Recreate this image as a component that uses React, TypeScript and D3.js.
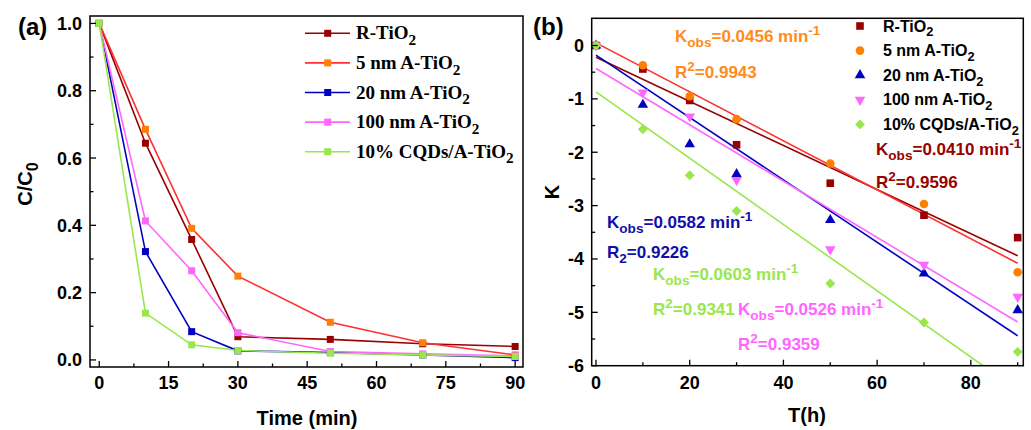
import React from "react";
import * as d3 from "d3";

// ---------- data ----------
const timeMin = [0, 10, 20, 30, 50, 70, 90];
const seriesNames = ["R-TiO", "5 nm A-TiO", "20 nm A-TiO", "100 nm A-TiO", "10% CQDs/A-TiO"];
const cR = [1, 0.644, 0.358, 0.069, 0.061, 0.048, 0.04];
const c5 = [1, 0.685, 0.391, 0.249, 0.112, 0.051, 0.015];
const c20 = [1, 0.322, 0.084, 0.027, 0.022, 0.015, 0.007];
const c100 = [1, 0.413, 0.265, 0.081, 0.025, 0.018, 0.012];
const cCQD = [1, 0.139, 0.045, 0.028, 0.02, 0.015, 0.01];

const kR = [0, -0.44, -1.03, -1.86, -2.58, -3.18, -3.6];
const k5 = [0, -0.37, -0.95, -1.38, -2.21, -2.97, -4.25];
const k20 = [0, -1.11, -1.85, -2.41, -3.27, -4.27, -4.96];
const k100 = [0, -0.88, -1.33, -2.52, -3.82, -4.11, -4.71];
const kCQD = [0, -1.57, -2.43, -3.1, -4.46, -5.19, -5.74];

// linear fit endpoints (x0=0)
const fitStartY = [-0.22, 0.05, -0.18, -0.43, -0.87];
const fitEndX = [90, 90, 90, 90, 82.6];
const fitEndY = [-3.94, -4.08, -5.44, -5.18, -6.0];

const xTicksA = [0, 15, 30, 45, 60, 75, 90];
const yTicksA = [0, 0.2, 0.4, 0.6, 0.8, 1.0];
const xTicksB = [0, 20, 40, 60, 80];
const yTicksB = [0, -1, -2, -3, -4, -5, -6];

const lineColors = ["#990000", "#FF3030", "#0000C0", "#FF66FF", "#99E64D"];
const markerColors = ["#990000", "#FF8000", "#0000C0", "#FF66FF", "#99E64D"];
const annoColors = ["#990000", "#FF8C1A", "#1010A8", "#FF66FF", "#99E64D"];

const SANS = "'Liberation Sans', Arial, sans-serif";
const SERIF = "'Liberation Serif', 'Times New Roman', serif";

type Part = { t: string; sub?: boolean; sup?: boolean };

function Rich({ x, y, parts, size, color, family = SANS, anchor = "start", rotate }: any) {
  let shift = 0;
  const spans = parts.map((p: Part, i: number) => {
    let target = 0;
    if (p.sub) target = size * 0.3;
    if (p.sup) target = -size * 0.4;
    const dy = target - shift;
    shift = target;
    return (
      <tspan key={i} dy={dy} fontSize={p.sub || p.sup ? size * 0.8 : size}>
        {p.t}
      </tspan>
    );
  });
  return (
    <text
      x={x}
      y={y}
      fill={color}
      fontFamily={family}
      fontWeight="bold"
      fontSize={size}
      textAnchor={anchor}
      transform={rotate ? `rotate(${rotate},${x},${y})` : undefined}
    >
      {spans}
    </text>
  );
}

function PanelA() {
  const L = 90, R = 523, T = 16, B = 367;
  const x = d3.scaleLinear().domain([-2, 91.7]).range([L, R]);
  const y = d3.scaleLinear().domain([-0.021, 1.022]).range([B, T]);
  const data = [cR, c5, c20, c100, cCQD];
  const line = d3
    .line<number>()
    .x((_, i) => x(timeMin[i]))
    .y((d) => y(d));
  const minorX = d3.range(0, 91, 7.5);
  const minorY = d3.range(0, 1.01, 0.1);
  const ms = 7;
  return (
    <g>
      {data.map((s, k) => (
        <path key={k} d={line(s) || ""} fill="none" stroke={lineColors[k]} strokeWidth={1.6} />
      ))}
      {data.map((s, k) =>
        s.map((v, i) => (
          <rect
            key={k + "-" + i}
            x={x(timeMin[i]) - ms / 2}
            y={y(v) - ms / 2}
            width={ms}
            height={ms}
            fill={markerColors[k]}
          />
        ))
      )}
      <rect x={L} y={T} width={R - L} height={B - T} fill="none" stroke="#000" strokeWidth={1.5} />
      {minorX.map((t) => (
        <line key={"mx" + t} x1={x(t)} x2={x(t)} y1={B} y2={B - (xTicksA.includes(t) ? 6 : 3.5)} stroke="#000" strokeWidth={1.3} />
      ))}
      {minorY.map((t) => (
        <line key={"my" + t} x1={L} x2={L + (Math.round(t * 10) % 2 === 0 ? 6 : 3.5)} y1={y(t)} y2={y(t)} stroke="#000" strokeWidth={1.3} />
      ))}
      {xTicksA.map((t) => (
        <text key={"xt" + t} x={x(t)} y={389} textAnchor="middle" fontFamily={SANS} fontWeight="bold" fontSize={18}>
          {t}
        </text>
      ))}
      {yTicksA.map((t) => (
        <text key={"yt" + t} x={82} y={y(t) + 6.5} textAnchor="end" fontFamily={SANS} fontWeight="bold" fontSize={18}>
          {t.toFixed(1)}
        </text>
      ))}
      <text x={307} y={425} textAnchor="middle" fontFamily={SANS} fontWeight="bold" fontSize={20}>
        Time (min)
      </text>
      <Rich x={32} y={184} size={20} color="#000" anchor="middle" rotate={-90} parts={[{ t: "C/C" }, { t: "0", sub: true }]} />
      <text x={18} y={35} fontFamily={SANS} fontWeight="bold" fontSize={24}>
        (a)
      </text>
      {seriesNames.map((n, k) => {
        const ly = 33.3 + k * 29.6;
        return (
          <g key={"lg" + k}>
            <line x1={305} x2={350} y1={ly} y2={ly} stroke={lineColors[k]} strokeWidth={1.6} />
            <rect x={327.7 - ms / 2} y={ly - ms / 2} width={ms} height={ms} fill={markerColors[k]} />
            <Rich x={356} y={ly + 6} size={19} family={SERIF} color="#000" parts={[{ t: n }, { t: "2", sub: true }]} />
          </g>
        );
      })}
    </g>
  );
}

function Marker({ k, cx, cy }: any) {
  const c = markerColors[k];
  if (k === 0) return <rect x={cx - 3.8} y={cy - 3.8} width={7.6} height={7.6} fill={c} />;
  if (k === 1) return <circle cx={cx} cy={cy} r={4.3} fill={c} />;
  if (k === 4)
    return <rect x={-3.5} y={-3.5} width={7} height={7} fill={c} transform={`translate(${cx},${cy}) rotate(45)`} />;
  const sym = d3.symbol(d3.symbolTriangle, 48);
  const rot = k === 3 ? 180 : 0;
  return <path d={sym() || ""} fill={c} transform={`translate(${cx},${cy}) rotate(${rot})`} />;
}

function PanelB() {
  const L = 591.7, R = 1023.3, T = 18.3, B = 365.7;
  const x = d3.scaleLinear().domain([-0.92, 91.2]).range([L, R]);
  const y = d3.scaleLinear().domain([-6, 0.51]).range([B, T]);
  const data = [kR, k5, k20, k100, kCQD];
  const minorX = d3.range(0, 91, 10);
  const minorY = d3.range(-6, 0.01, 0.5);
  return (
    <g>
      <defs>
        <clipPath id="clipB">
          <rect x={L} y={T} width={R - L} height={B - T} />
        </clipPath>
      </defs>
      <g clipPath="url(#clipB)">
        {fitStartY.map((s, k) => (
          <line
            key={"fit" + k}
            x1={x(0)}
            y1={y(s)}
            x2={x(fitEndX[k])}
            y2={y(fitEndY[k])}
            stroke={lineColors[k]}
            strokeWidth={1.6}
          />
        ))}
        {data.map((s, k) => s.map((v, i) => <Marker key={k + "-" + i} k={k} cx={x(timeMin[i])} cy={y(v)} />))}
      </g>
      <rect x={L} y={T} width={R - L} height={B - T} fill="none" stroke="#000" strokeWidth={1.5} />
      {minorX.map((t) => (
        <line key={"mx" + t} x1={x(t)} x2={x(t)} y1={B} y2={B - (t % 20 === 0 ? 6 : 3.5)} stroke="#000" strokeWidth={1.3} />
      ))}
      {minorY.map((t) => (
        <line key={"my" + t} x1={L} x2={L + (Number.isInteger(t) ? 6 : 3.5)} y1={y(t)} y2={y(t)} stroke="#000" strokeWidth={1.3} />
      ))}
      {xTicksB.map((t) => (
        <text key={"xt" + t} x={x(t)} y={389} textAnchor="middle" fontFamily={SANS} fontWeight="bold" fontSize={18}>
          {t}
        </text>
      ))}
      {yTicksB.map((t) => (
        <text key={"yt" + t} x={584} y={y(t) + 6.5} textAnchor="end" fontFamily={SANS} fontWeight="bold" fontSize={18}>
          {t}
        </text>
      ))}
      <text x={807} y={422} textAnchor="middle" fontFamily={SANS} fontWeight="bold" fontSize={20}>
        T(h)
      </text>
      <text x={559} y={192} textAnchor="middle" fontFamily={SANS} fontWeight="bold" fontSize={20} transform="rotate(-90,559,192)">
        K
      </text>
      <text x={533} y={35} fontFamily={SANS} fontWeight="bold" fontSize={24}>
        (b)
      </text>
      {seriesNames.map((n, k) => {
        const ly = 26 + k * 24.6;
        return (
          <g key={"lg" + k}>
            <Marker k={k} cx={860} cy={ly} />
            <Rich x={883} y={ly + 5.5} size={16} color="#000" parts={[{ t: n }, { t: "2", sub: true }]} />
          </g>
        );
      })}
      {/* annotations */}
      <Rich x={675} y={42} size={17} color={annoColors[1]} parts={[{ t: "K" }, { t: "obs", sub: true }, { t: "=0.0456 min" }, { t: "-1", sup: true }]} />
      <Rich x={675} y={78} size={17} color={annoColors[1]} parts={[{ t: "R" }, { t: "2", sup: true }, { t: "=0.9943" }]} />
      <Rich x={876} y={155} size={17} color={annoColors[0]} parts={[{ t: "K" }, { t: "obs", sub: true }, { t: "=0.0410 min" }, { t: "-1", sup: true }]} />
      <Rich x={876} y={188} size={17} color={annoColors[0]} parts={[{ t: "R" }, { t: "2", sup: true }, { t: "=0.9596" }]} />
      <Rich x={607} y={228} size={17} color={annoColors[2]} parts={[{ t: "K" }, { t: "obs", sub: true }, { t: "=0.0582 min" }, { t: "-1", sup: true }]} />
      <Rich x={607} y={258} size={17} color={annoColors[2]} parts={[{ t: "R" }, { t: "2", sub: true }, { t: "=0.9226" }]} />
      <Rich x={653} y={280} size={17} color={annoColors[4]} parts={[{ t: "K" }, { t: "obs", sub: true }, { t: "=0.0603 min" }, { t: "-1", sup: true }]} />
      <Rich x={653} y={315} size={17} color={annoColors[4]} parts={[{ t: "R" }, { t: "2", sup: true }, { t: "=0.9341" }]} />
      <Rich x={738} y={315} size={17} color={annoColors[3]} parts={[{ t: "K" }, { t: "obs", sub: true }, { t: "=0.0526 min" }, { t: "-1", sup: true }]} />
      <Rich x={738} y={350} size={17} color={annoColors[3]} parts={[{ t: "R" }, { t: "2", sup: true }, { t: "=0.9359" }]} />
    </g>
  );
}

export default function App() {
  return (
    <svg width={1031} height={430} style={{ position: "absolute", left: 0, top: 0, background: "#fff" }}>
      <rect x={0} y={0} width={1031} height={430} fill="#fff" />
      <PanelA />
      <PanelB />
    </svg>
  );
}
